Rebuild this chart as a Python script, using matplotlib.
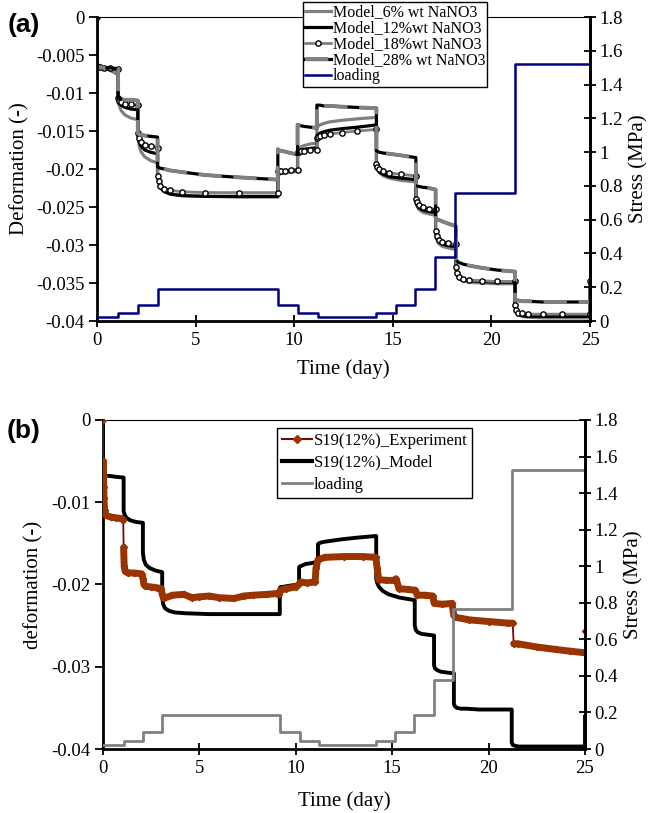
import matplotlib
matplotlib.use("Agg")
import matplotlib.pyplot as plt
from matplotlib.lines import Line2D
from matplotlib.ticker import FuncFormatter
import numpy as np

plt.rcParams['font.family'] = ['Liberation Serif', 'DejaVu Serif']

# ---- loading history (MPa), step changes at these times (day) ----
load_t = [0, 1.07, 2.07, 3.07, 9.2, 10.2, 11.2, 14.15, 15.15, 16.15, 17.15, 18.15, 21.2, 25]
load_a = [0.025, 0.048, 0.097, 0.19, 0.097, 0.048, 0.025, 0.048, 0.097, 0.19, 0.38, 0.76, 1.52, 1.52]
load_b = [0.023, 0.046, 0.095, 0.188, 0.095, 0.046, 0.023, 0.046, 0.095, 0.188, 0.38, 0.765, 1.525, 1.525]

# ---- model time axis (day), repeated times are the load jumps ----
model_t = [
    0.0,
    0.0, 0.05, 0.15, 0.35, 0.65, 1.07,
    1.07, 1.12, 1.22, 1.42, 1.72, 2.07,
    2.07, 2.12, 2.22, 2.42, 2.72, 3.07,
    3.07, 3.12, 3.22, 3.42, 3.72, 4.3, 5.5, 7.2, 9.17,
    9.17, 9.22, 9.32, 9.52, 9.82, 10.17,
    10.17, 10.22, 10.32, 10.52, 10.82, 11.15,
    11.15, 11.2, 11.3, 11.5, 11.8, 12.4, 13.2, 14.17,
    14.17, 14.22, 14.32, 14.52, 14.82, 15.4, 16.17,
    16.17, 16.22, 16.32, 16.52, 16.82, 17.17,
    17.17, 17.22, 17.32, 17.52, 17.82, 18.2,
    18.2, 18.25, 18.35, 18.55, 18.85, 19.5, 20.3, 21.2,
    21.2, 21.25, 21.35, 21.55, 21.85, 22.6, 23.6, 25.0,
    25.0,
]

m6 = [
    0.0,
    -0.0065, -0.0066, -0.0066, -0.0067, -0.0070, -0.0076,
    -0.0107, -0.0116, -0.0123, -0.0129, -0.0133, -0.0135,
    -0.0153, -0.0167, -0.0177, -0.0184, -0.0189, -0.0192,
    -0.0205, -0.0215, -0.0223, -0.0229, -0.0233, -0.0235, -0.0236, -0.0237, -0.0237,
    -0.0210, -0.0208, -0.0206, -0.0205, -0.0204, -0.0203,
    -0.0176, -0.0173, -0.0171, -0.0169, -0.0167, -0.0166,
    -0.0146, -0.0144, -0.0142, -0.0140, -0.0138, -0.0136, -0.0134, -0.0132,
    -0.0196, -0.0201, -0.0205, -0.0209, -0.0212, -0.0215, -0.0217,
    -0.0241, -0.0248, -0.0253, -0.0257, -0.0259, -0.0261,
    -0.0283, -0.0292, -0.0298, -0.0302, -0.0304, -0.0306,
    -0.0331, -0.0339, -0.0344, -0.0347, -0.0349, -0.0350, -0.0351, -0.0351,
    -0.0381, -0.0388, -0.0392, -0.0394, -0.0395, -0.0396, -0.0396, -0.0396,
    -0.0350,
]

m12 = [
    0.0,
    -0.0065, -0.0066, -0.0066, -0.0067, -0.0068, -0.0069,
    -0.0107, -0.0112, -0.0116, -0.0119, -0.0121, -0.0122,
    -0.0153, -0.0162, -0.0169, -0.0175, -0.0178, -0.0180,
    -0.0208, -0.0217, -0.0225, -0.0230, -0.0233, -0.0235, -0.0236, -0.0236, -0.0236,
    -0.0205, -0.0204, -0.0203, -0.0202, -0.0202, -0.0201,
    -0.0178, -0.0176, -0.0175, -0.0174, -0.0173, -0.0172,
    -0.0157, -0.0155, -0.0153, -0.0151, -0.0149, -0.0147, -0.0145, -0.0142,
    -0.0196, -0.0200, -0.0204, -0.0207, -0.0210, -0.0212, -0.0214,
    -0.0241, -0.0247, -0.0251, -0.0254, -0.0256, -0.0257,
    -0.0282, -0.0290, -0.0295, -0.0299, -0.0301, -0.0302,
    -0.0330, -0.0338, -0.0343, -0.0346, -0.0347, -0.0348, -0.0349, -0.0349,
    -0.0380, -0.0387, -0.0391, -0.0393, -0.0394, -0.0394, -0.0394, -0.0394,
    -0.0348,
]

m18 = [
    0.0,
    -0.0065, -0.0066, -0.0066, -0.0067, -0.0067, -0.0068,
    -0.0107, -0.0110, -0.0112, -0.0114, -0.0115, -0.0116,
    -0.0153, -0.0159, -0.0164, -0.0168, -0.0170, -0.0172,
    -0.0209, -0.0216, -0.0222, -0.0226, -0.0228, -0.0230, -0.0231, -0.0231, -0.0231,
    -0.0203, -0.0202, -0.0202, -0.0202, -0.0201, -0.0201,
    -0.0177, -0.0177, -0.0176, -0.0176, -0.0175, -0.0175,
    -0.0159, -0.0158, -0.0157, -0.0155, -0.0154, -0.0152, -0.0150, -0.0148,
    -0.0194, -0.0197, -0.0200, -0.0203, -0.0205, -0.0207, -0.0209,
    -0.0239, -0.0244, -0.0248, -0.0250, -0.0252, -0.0253,
    -0.0281, -0.0288, -0.0293, -0.0296, -0.0298, -0.0299,
    -0.0329, -0.0337, -0.0342, -0.0345, -0.0346, -0.0347, -0.0348, -0.0348,
    -0.0379, -0.0386, -0.0389, -0.0390, -0.0391, -0.0391, -0.0391, -0.0391,
    -0.0347,
]

m28 = [
    0.0,
    -0.0065, -0.0066, -0.0066, -0.0067, -0.0067, -0.0068,
    -0.0107, -0.0108, -0.0108, -0.0109, -0.0109, -0.0110,
    -0.0153, -0.0154, -0.0155, -0.0156, -0.0157, -0.0158,
    -0.0197, -0.0198, -0.0199, -0.0200, -0.0202, -0.0204, -0.0208, -0.0211, -0.0214,
    -0.0174, -0.0175, -0.0176, -0.0177, -0.0179, -0.0181,
    -0.0142, -0.0142, -0.0143, -0.0144, -0.0145, -0.0146,
    -0.0116, -0.0116, -0.0116, -0.0117, -0.0117, -0.0118, -0.0119, -0.0120,
    -0.0176, -0.0177, -0.0178, -0.0179, -0.0180, -0.0182, -0.0185,
    -0.0222, -0.0222, -0.0223, -0.0224, -0.0225, -0.0227,
    -0.0265, -0.0266, -0.0267, -0.0269, -0.0272, -0.0275,
    -0.0318, -0.0321, -0.0323, -0.0325, -0.0327, -0.0330, -0.0333, -0.0335,
    -0.0370, -0.0372, -0.0373, -0.0374, -0.0374, -0.0375, -0.0375, -0.0375,
    -0.0375,
]

# panel (b): S19 (12%) model
s19_model = [
    0.0,
    -0.0066, -0.0067, -0.0068, -0.0068, -0.0069, -0.0070,
    -0.0111, -0.0115, -0.0119, -0.0122, -0.0124, -0.0125,
    -0.0162, -0.0170, -0.0176, -0.0180, -0.0183, -0.0185,
    -0.0215, -0.0224, -0.0229, -0.0232, -0.0234, -0.0235, -0.0236, -0.0236, -0.0236,
    -0.0204, -0.0203, -0.0203, -0.0202, -0.0201, -0.0200,
    -0.0179, -0.0178, -0.0177, -0.0175, -0.0174, -0.0172,
    -0.0151, -0.0150, -0.0149, -0.0148, -0.0147, -0.0145, -0.0143, -0.0141,
    -0.0193, -0.0198, -0.0203, -0.0208, -0.0212, -0.0216, -0.0219,
    -0.0250, -0.0255, -0.0258, -0.0260, -0.0261, -0.0262,
    -0.0298, -0.0302, -0.0304, -0.0306, -0.0307, -0.0308,
    -0.0345, -0.0348, -0.0350, -0.0351, -0.0351, -0.0352, -0.0352, -0.0352,
    -0.0392, -0.0395, -0.0396, -0.0397, -0.0397, -0.0397, -0.0397, -0.0397,
    -0.0361,
]

# panel (b): S19 (12%) experiment
exp_t = [0, 0.02, 0.03, 0.04, 0.05, 0.08, 0.15, 0.4, 0.7, 1.0, 1.05,
         1.07, 1.1, 1.15, 1.3, 1.6, 2.0,
         2.08, 2.12, 2.2, 2.5, 2.8, 3.02,
         3.07, 3.15, 3.6, 4.2, 4.6, 5.0, 5.5, 6.0, 6.8, 7.3, 7.8, 8.5, 9.0, 9.15,
         9.2, 9.5, 10.0, 10.15, 10.25, 10.6, 11.0,
         11.05, 11.15, 11.5, 12.5, 13.5, 14.15,
         14.22, 14.3, 14.7, 15.1, 15.2, 15.35, 15.8, 16.2,
         16.3, 16.7, 17.1, 17.18, 17.6, 18.1,
         18.2, 18.3, 19.0, 20.0, 21.0, 21.25,
         21.3, 21.5, 22.5, 23.5, 24.2, 25.0, 25.0]
exp_v = [0, -0.0050, -0.0068, -0.0082, -0.0095, -0.0110, -0.0116, -0.0118, -0.0119, -0.0120, -0.0122,
         -0.0155, -0.0178, -0.0184, -0.0186, -0.0186, -0.0187,
         -0.0193, -0.0200, -0.0202, -0.0203, -0.0204, -0.0205,
         -0.0212, -0.0217, -0.0213, -0.0212, -0.0216, -0.0215, -0.0214, -0.0216, -0.0217, -0.0214, -0.0213, -0.0212, -0.0211, -0.0212,
         -0.0207, -0.0205, -0.0203, -0.0200, -0.0197, -0.0198, -0.0197,
         -0.0180, -0.0170, -0.0167, -0.0166, -0.0166, -0.0167,
         -0.0180, -0.0194, -0.0195, -0.0195, -0.0193, -0.0205, -0.0206, -0.0207,
         -0.0213, -0.0213, -0.0214, -0.0223, -0.0224, -0.0223,
         -0.0238, -0.0240, -0.0243, -0.0245, -0.0247, -0.0247,
         -0.0272, -0.0272, -0.0276, -0.0279, -0.0281, -0.0283, -0.0257]

def_ticks_a = [-0.04, -0.035, -0.03, -0.025, -0.02, -0.015, -0.01, -0.005, 0]
def_ticks_b = [-0.04, -0.03, -0.02, -0.01, 0]
stress_ticks = [0, 0.2, 0.4, 0.6, 0.8, 1.0, 1.2, 1.4, 1.6, 1.8]
time_ticks = [0, 5, 10, 15, 20, 25]

GRAY = '#808080'
NAVY = '#000080'
ORANGE = '#993300'
DARKRED = '#800000'
fmt = FuncFormatter(lambda v, p: '%g' % v)


def style_axes(ax, axr, yticks, xpad):
    ax.set_xlim(0, 25)
    ax.set_ylim(-0.04, 0)
    ax.set_xticks(time_ticks)
    ax.set_yticks(yticks)
    ax.yaxis.set_major_formatter(fmt)
    axr.set_ylim(0, 1.8)
    axr.set_yticks(stress_ticks)
    axr.yaxis.set_major_formatter(fmt)
    for s in ['left', 'bottom', 'right']:
        ax.spines[s].set_linewidth(2)
    ax.spines['top'].set_linewidth(0.8)
    for s in ['left', 'bottom', 'top']:
        axr.spines[s].set_visible(False)
    axr.spines['right'].set_linewidth(2)
    ax.tick_params(axis='y', direction='out', length=6, width=1.3, labelsize=13.5, pad=3)
    ax.tick_params(axis='x', direction='inout', length=8, width=1.3, labelsize=13.5, pad=4)
    axr.tick_params(axis='y', direction='inout', length=8, width=1.3, labelsize=13.5, pad=3)
    ax.set_xlabel('Time (day)', fontsize=15, labelpad=xpad)
    axr.set_ylabel('Stress (MPa)', fontsize=15, labelpad=4)


fig = plt.figure(figsize=(6.51, 8.13), dpi=100)

# ---------------- panel (a) ----------------
ax1 = fig.add_axes([97 / 651, 1 - 321 / 813, 493 / 651, 304 / 813])
ax1r = ax1.twinx()

l6, = ax1.plot(model_t, m6, color=GRAY, lw=2.3)
l12, = ax1.plot(model_t, m12, color='black', lw=2.3)
l18, = ax1.plot(model_t, m18, color=GRAY, lw=2.0, marker='o', ms=3.8,
                mfc='white', mec='black', mew=1.0)
l28b, = ax1.plot(model_t, m28, color='black', lw=2.3)
l28g, = ax1.plot(model_t, m28, color=GRAY, lw=2.8, dashes=(6, 3))
lla, = ax1r.plot(load_t, load_a, color=NAVY, lw=1.8, drawstyle='steps-post')

style_axes(ax1, ax1r, def_ticks_a, 7)
ax1.set_ylabel('Deformation (-)', fontsize=15, labelpad=5)

ax1r.legend([l6, l12, l18, (l28b, l28g), lla],
            ['Model_6% wt NaNO3', 'Model_12%wt NaNO3', 'Model_18%wt NaNO3',
             'Model_28% wt NaNO3', 'loading'],
            loc='upper left', bbox_to_anchor=(303 / 651, 1 - 2 / 813),
            bbox_transform=fig.transFigure, borderaxespad=0, fontsize=11.5,
            frameon=True, fancybox=False, framealpha=1, edgecolor='black',
            labelspacing=0.0, handlelength=1.6, handletextpad=0.1, borderpad=0.15)
ax1r.get_legend().get_frame().set_linewidth(1.0)

fig.text(8 / 651, 1 - 25 / 813, '(a)', fontsize=19, fontweight='bold',
         family='Liberation Sans', va='center', ha='left')

# ---------------- panel (b) ----------------
ax2 = fig.add_axes([103 / 651, 1 - 749 / 813, 482 / 651, 329 / 813])
ax2r = ax2.twinx()

ev = np.array(exp_v, dtype=float)
et = np.array(exp_t, dtype=float)
# thick band only where the measured points are dense (not across the jumps)
band_t, band_v = [et[0]], [ev[0]]
for i in range(1, len(et)):
    if abs(ev[i] - ev[i - 1]) > 0.0024:
        band_t.append(np.nan)
        band_v.append(np.nan)
    band_t.append(et[i])
    band_v.append(ev[i])

ax2.plot(model_t, s19_model, color='black', lw=2.8, zorder=2)
ax2.plot(et, ev, color=DARKRED, lw=1.3, zorder=3)
ax2.plot(band_t, band_v, color=ORANGE, lw=5.0, solid_capstyle='round',
         solid_joinstyle='round', zorder=3)
ax2.plot(et, ev, ls='none', marker='D', ms=3.2, color=ORANGE, zorder=4)
ax2r.plot(load_t, load_b, color=GRAY, lw=2.0, drawstyle='steps-post')

style_axes(ax2, ax2r, def_ticks_b, 10)
ax2.set_ylabel('deformation (-)', fontsize=15, labelpad=6)

h_exp = Line2D([], [], color=DARKRED, lw=1.5, marker='D', ms=4, mfc=ORANGE, mec=ORANGE)
h_mod = Line2D([], [], color='black', lw=3)
h_load = Line2D([], [], color=GRAY, lw=2)
leg = ax2r.legend([h_exp, h_mod, h_load],
                  ['S19(12%)_Experiment', 'S19(12%)_Model', 'loading'],
                  loc='upper left', bbox_to_anchor=(277 / 651, 1 - 428 / 813),
                  bbox_transform=fig.transFigure, borderaxespad=0, fontsize=12,
                  frameon=True, fancybox=False, framealpha=1, edgecolor='black',
                  labelspacing=0.35, handlelength=1.8, handletextpad=0.1, borderpad=0.3)
leg.get_frame().set_linewidth(1.0)

fig.text(7 / 651, 1 - 431 / 813, '(b)', fontsize=19, fontweight='bold',
         family='Liberation Sans', va='center', ha='left')

fig.savefig('out.png', dpi=100)
